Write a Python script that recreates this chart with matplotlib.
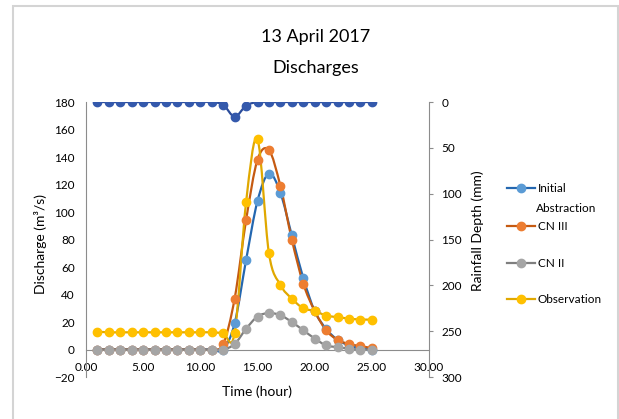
"""
Discharge hydrograph for 13 April 2017: modelled (initial abstraction, CN III,
CN II) vs observed discharge, with rainfall depth on an inverted right axis.
"""

import numpy as np
import matplotlib
matplotlib.use("Agg")
import matplotlib.pyplot as plt
from matplotlib.path import Path
from matplotlib.patches import PathPatch, Rectangle
from matplotlib.lines import Line2D

plt.rcParams["font.family"] = ["Lato", "DejaVu Sans"]

hours = list(range(1, 26))
rainfall_mm = [0, 0, 0, 0, 0, 0, 0, 0, 0, 0, 0, 3, 16, 4, 0,
               0, 0, 0, 0, 0, 0, 0, 0, 0, 0]
q_initial_abstraction = [0, 0, 0, 0, 0, 0, 0, 0, 0, 0, 0, 0, 19, 65, 108,
                         128, 114, 83, 52, 28, 15, 7, 3, 1, 0]
q_cn3 = [0, 0, 0, 0, 0, 0, 0, 0, 0, 0, 0, 4, 37, 94, 138,
         145, 119, 80, 48, 28, 14, 7, 4, 2.5, 1]
q_cn2 = [0, 0, 0, 0, 0, 0, 0, 0, 0, 0, 0, 0, 4, 15, 24,
         26.5, 25, 20, 14, 8, 3, 1.7, 0.6, 0, 0]
q_observed = [13, 12.5, 12.5, 12.5, 12.5, 12.5, 12.5, 12.5, 12.5, 12.5, 12.5, 12, 12, 107, 153,
              70, 47, 37, 30, 28, 24.7, 23.5, 22.5, 21.8, 21.8]

x_ticks = [0, 5, 10, 15, 20, 25, 30]
left_ticks = list(range(-20, 181, 20))
right_ticks = list(range(0, 301, 50))

SPINE = "#8c8c8c"
W, H = 619, 419


def smooth_path(x, y):
    # Excel-style smoothed line: cubic bezier through every point
    pts = np.column_stack([x, y]).astype(float)
    n = len(pts)
    verts = [pts[0]]
    codes = [Path.MOVETO]
    for i in range(n - 1):
        p0 = pts[max(i - 1, 0)]
        p1 = pts[i]
        p2 = pts[i + 1]
        p3 = pts[min(i + 2, n - 1)]
        c1 = p1 + (p2 - p0) / 6.0
        c2 = p2 - (p3 - p1) / 6.0
        verts += [c1, c2, p2]
        codes += [Path.CURVE4] * 3
    return Path(verts, codes)


def add_series(ax, x, y, line_c, face_c):
    ax.add_patch(PathPatch(smooth_path(x, y), fill=False, edgecolor=line_c,
                           lw=1.6, zorder=2))
    ax.plot(x, y, "o", ms=6, mfc=face_c, mec=face_c, zorder=3)


fig = plt.figure(figsize=(W / 100, H / 100), dpi=100)
ax = fig.add_axes([86 / W, 1 - 377 / H, (429 - 86) / W, (377 - 102) / H])
ax2 = ax.twinx()

series = [
    ("Initial", "Abstraction", q_initial_abstraction, "#2467B0", "#5B9BD5", 188),
    ("CN III", None, q_cn3, "#C55A11", "#ED7D31", 226),
    ("CN II", None, q_cn2, "#7F7F7F", "#A5A5A5", 263),
    ("Observation", None, q_observed, "#E0A800", "#FFC000", 299),
]
for label, label2, vals, line_c, face_c, ly in series:
    add_series(ax, hours, vals, line_c, face_c)
    # legend entry, drawn by hand to follow the original's spacing
    fy = 1 - ly / H
    fig.add_artist(Line2D([507 / W, 535 / W], [fy, fy], transform=fig.transFigure,
                          color=line_c, lw=1.6))
    fig.add_artist(Line2D([521 / W], [fy], transform=fig.transFigure, marker="o",
                          ms=6, mfc=face_c, mec=face_c))
    fig.text(538 / W, fy, label, ha="left", va="center", fontsize=8.5)
    if label2:
        fig.text(536 / W, 1 - (ly + 20) / H, label2, ha="left", va="center", fontsize=8.5)

add_series(ax2, hours, rainfall_mm, "#2B4C9B", "#3459AC")

ax.set_xlim(0, 30)
ax.set_ylim(-20, 180)
ax.set_xticks(x_ticks)
ax.set_xticklabels([f"{v:.2f}" for v in x_ticks])
ax.set_yticks(left_ticks)
ax2.set_ylim(300, 0)
ax2.set_yticks(right_ticks)

for a in (ax, ax2):
    a.patch.set_visible(False)
    a.spines["top"].set_visible(False)
ax.spines["bottom"].set_position(("data", 0))
ax.spines["bottom"].set_color(SPINE)
ax.spines["left"].set_color(SPINE)
ax.spines["right"].set_visible(False)
ax2.spines["left"].set_visible(False)
ax2.spines["bottom"].set_visible(False)
ax2.spines["right"].set_color(SPINE)

ax.tick_params(axis="x", length=0, pad=9, labelsize=8.5)
ax.tick_params(axis="y", length=0, pad=8, labelsize=8.5)
ax2.tick_params(axis="y", length=3, pad=6, color=SPINE, labelsize=8.5)

ax.set_xlabel("Time (hour)", fontsize=10)
ax.xaxis.set_label_coords(0.5, -8 / 275)
ax.set_ylabel("Discharge (m³/s)", fontsize=10)
ax.yaxis.set_label_coords(-(86 - 47) / 343, (377 - 244) / 275)
ax2.set_ylabel("Rainfall Depth (mm)", fontsize=10)
ax2.yaxis.set_label_coords((471 - 86) / 343, (377 - 231) / 275)

fig.text(316 / W, 1 - 37 / H, "13 April 2017", ha="center", va="center", fontsize=13)
fig.text(316 / W, 1 - 68 / H, "Discharges", ha="center", va="center", fontsize=13)

fig.add_artist(Rectangle((13 / W, -0.1), (618 - 13) / W, 0.1 + (H - 6.5) / H,
                         transform=fig.transFigure, fill=False, edgecolor="#d4d4d4", lw=1.5))

fig.savefig("out.png", dpi=100)
print("Saved: out.png")
